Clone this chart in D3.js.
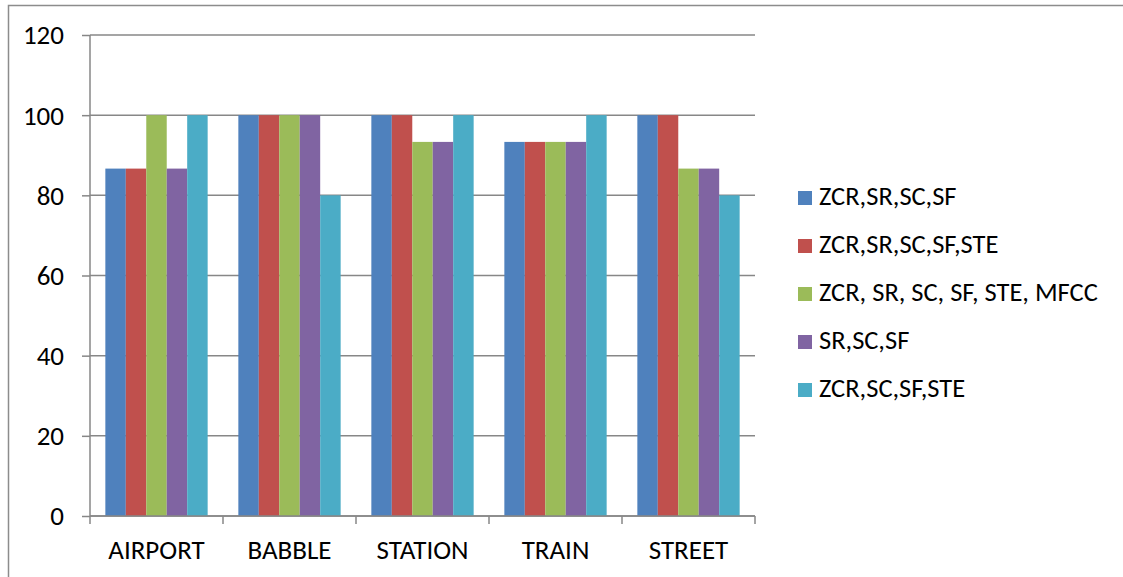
<!DOCTYPE html>
<html>
<head>
<meta charset="utf-8">
<script src="https://cdn.jsdelivr.net/npm/d3@7"></script>
<style>
  html, body { margin: 0; padding: 0; background: #fff; }
  svg text { font-family: Carlito, "Liberation Sans", Arial, sans-serif; fill: #000; }
</style>
</head>
<body>
<div id="chart"></div>
<script>
// categories and series
const categories = ["AIRPORT", "BABBLE", "STATION", "TRAIN", "STREET"];
const seriesNames = [
  "ZCR,SR,SC,SF",
  "ZCR,SR,SC,SF,STE",
  "ZCR, SR, SC, SF, STE, MFCC",
  "SR,SC,SF",
  "ZCR,SC,SF,STE"
];
const s1 = [86.67, 100, 100, 93.33, 100];
const s2 = [86.67, 100, 100, 93.33, 100];
const s3 = [100, 100, 93.33, 93.33, 86.67];
const s4 = [86.67, 100, 93.33, 93.33, 86.67];
const s5 = [100, 80, 100, 100, 80];
const yTicks = [0, 20, 40, 60, 80, 100, 120];
const colors = ["#4F81BD", "#C0504D", "#9BBB59", "#8064A2", "#4BACC6"];

const seriesValues = [s1, s2, s3, s4, s5];
const rows = [];
categories.forEach((c, i) => {
  seriesValues.forEach((vals, j) => {
    rows.push({ cat: c, series: seriesNames[j], idx: j, value: vals[i] });
  });
});

const W = 1123, H = 577;
const margin = { left: 90, top: 35, right: 368, bottom: 61 };
const innerW = W - margin.left - margin.right;
const innerH = H - margin.top - margin.bottom;

const svg = d3.select("#chart").append("svg")
  .attr("width", W)
  .attr("height", H);

// outer chart frame
svg.append("rect")
  .attr("x", 8.5).attr("y", 5.5)
  .attr("width", W + 20).attr("height", H + 20)
  .attr("fill", "none")
  .attr("stroke", "#8c8c8c")
  .attr("stroke-width", 1.5);

const g = svg.append("g")
  .attr("transform", `translate(${margin.left},${margin.top})`);

/** scales */
const x = d3.scaleBand()
  .domain(categories)
  .range([0, innerW])
  .paddingInner(0)
  .paddingOuter(0);

const x1 = d3.scaleBand()
  .domain(d3.range(seriesNames.length))
  .range([0, x.bandwidth()])
  .paddingOuter(0.75)
  .paddingInner(0);

const y = d3.scaleLinear()
  .domain([0, 120])
  .range([innerH, 0]);

// gridlines
g.append("g")
  .selectAll("line")
  .data(yTicks)
  .join("line")
  .attr("x1", 0)
  .attr("x2", innerW)
  .attr("y1", d => y(d))
  .attr("y2", d => y(d))
  .attr("stroke", "#878787")
  .attr("stroke-width", 1.5);

// bars
g.append("g")
  .selectAll("rect")
  .data(rows)
  .join("rect")
  .attr("x", d => x(d.cat) + x1(d.idx))
  .attr("y", d => y(d.value))
  .attr("width", x1.bandwidth())
  .attr("height", d => innerH - y(d.value))
  .attr("fill", d => colors[d.idx]);

// y axis
const yAxis = g.append("g")
  .call(d3.axisLeft(y).tickValues(yTicks).tickSize(8).tickPadding(18));
yAxis.selectAll("line").attr("stroke", "#878787").attr("stroke-width", 1.5);
yAxis.select(".domain").attr("stroke", "#878787").attr("stroke-width", 1.5)
  .attr("d", `M0,${innerH}V0`);
yAxis.selectAll("text")
  .style("font-size", "27px")
  .attr("dy", "0.33em");

// x axis with ticks at category boundaries
const xAxis = g.append("g")
  .attr("transform", `translate(0,${innerH})`);
xAxis.append("line")
  .attr("x1", 0).attr("x2", innerW)
  .attr("stroke", "#878787").attr("stroke-width", 1.5);
xAxis.selectAll("line.tick")
  .data(categories.concat(["end"]))
  .join("line")
  .attr("class", "tick")
  .attr("x1", (d, i) => i * x.bandwidth())
  .attr("x2", (d, i) => i * x.bandwidth())
  .attr("y1", 0).attr("y2", 8)
  .attr("stroke", "#878787").attr("stroke-width", 1.5);
xAxis.selectAll("text")
  .data(categories)
  .join("text")
  .attr("x", d => x(d) + x.bandwidth() / 2)
  .attr("y", 43)
  .attr("text-anchor", "middle")
  .style("font-size", "27px")
  .text(d => d);

// legend
const legend = svg.append("g")
  .attr("transform", "translate(798,191)");
const item = legend.selectAll("g")
  .data(seriesNames)
  .join("g")
  .attr("transform", (d, i) => `translate(0,${i * 48})`);
item.append("rect")
  .attr("width", 14).attr("height", 14)
  .attr("fill", (d, i) => colors[i]);
item.append("text")
  .attr("x", 21)
  .attr("y", 14)
  .style("font-size", "26.5px")
  .text(d => d);
</script>
</body>
</html>
